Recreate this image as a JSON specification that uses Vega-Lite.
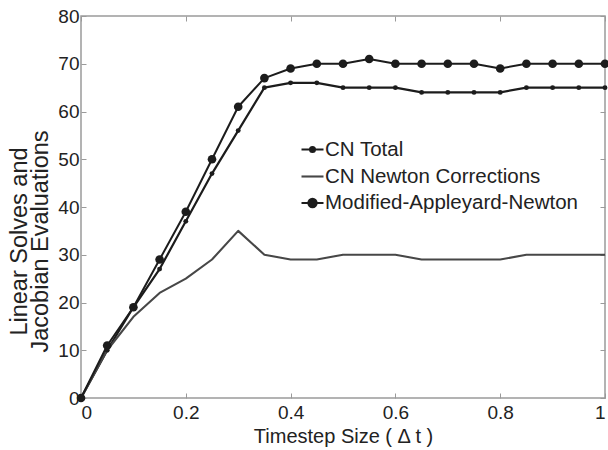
{
  "$schema": "https://vega.github.io/schema/vega-lite/v6.json",
  "width": 524,
  "height": 382,
  "autosize": {"type": "none"},
  "padding": {"left": 81, "top": 16, "right": 3, "bottom": 52},
  "background": "white",
  "config": {
    "view": {"stroke": "#9a9a9a", "strokeWidth": 1.5},
    "font": "Liberation Sans",
    "axis": {
      "domain": false,
      "grid": false,
      "tickSize": -5,
      "tickColor": "#9a9a9a",
      "tickWidth": 1,
      "labelFont": "Liberation Sans",
      "labelFontSize": 19,
      "labelColor": "#222222",
      "titleFont": "Liberation Sans",
      "titleFontSize": 20,
      "titleFontWeight": "normal",
      "titleColor": "#222222"
    }
  },
  "data": {
    "values": [
      {"x": 0.0, "series": "CN Total", "v": 0},
      {"x": 0.05, "series": "CN Total", "v": 10},
      {"x": 0.1, "series": "CN Total", "v": 19},
      {"x": 0.15, "series": "CN Total", "v": 27},
      {"x": 0.2, "series": "CN Total", "v": 37},
      {"x": 0.25, "series": "CN Total", "v": 47},
      {"x": 0.3, "series": "CN Total", "v": 56},
      {"x": 0.35, "series": "CN Total", "v": 65},
      {"x": 0.4, "series": "CN Total", "v": 66},
      {"x": 0.45, "series": "CN Total", "v": 66},
      {"x": 0.5, "series": "CN Total", "v": 65},
      {"x": 0.55, "series": "CN Total", "v": 65},
      {"x": 0.6, "series": "CN Total", "v": 65},
      {"x": 0.65, "series": "CN Total", "v": 64},
      {"x": 0.7, "series": "CN Total", "v": 64},
      {"x": 0.75, "series": "CN Total", "v": 64},
      {"x": 0.8, "series": "CN Total", "v": 64},
      {"x": 0.85, "series": "CN Total", "v": 65},
      {"x": 0.9, "series": "CN Total", "v": 65},
      {"x": 0.95, "series": "CN Total", "v": 65},
      {"x": 1.0, "series": "CN Total", "v": 65},
      {"x": 0.0, "series": "CN Newton Corrections", "v": 0},
      {"x": 0.05, "series": "CN Newton Corrections", "v": 10},
      {"x": 0.1, "series": "CN Newton Corrections", "v": 17},
      {"x": 0.15, "series": "CN Newton Corrections", "v": 22},
      {"x": 0.2, "series": "CN Newton Corrections", "v": 25},
      {"x": 0.25, "series": "CN Newton Corrections", "v": 29},
      {"x": 0.3, "series": "CN Newton Corrections", "v": 35},
      {"x": 0.35, "series": "CN Newton Corrections", "v": 30},
      {"x": 0.4, "series": "CN Newton Corrections", "v": 29},
      {"x": 0.45, "series": "CN Newton Corrections", "v": 29},
      {"x": 0.5, "series": "CN Newton Corrections", "v": 30},
      {"x": 0.55, "series": "CN Newton Corrections", "v": 30},
      {"x": 0.6, "series": "CN Newton Corrections", "v": 30},
      {"x": 0.65, "series": "CN Newton Corrections", "v": 29},
      {"x": 0.7, "series": "CN Newton Corrections", "v": 29},
      {"x": 0.75, "series": "CN Newton Corrections", "v": 29},
      {"x": 0.8, "series": "CN Newton Corrections", "v": 29},
      {"x": 0.85, "series": "CN Newton Corrections", "v": 30},
      {"x": 0.9, "series": "CN Newton Corrections", "v": 30},
      {"x": 0.95, "series": "CN Newton Corrections", "v": 30},
      {"x": 1.0, "series": "CN Newton Corrections", "v": 30},
      {"x": 0.0, "series": "Modified-Appleyard-Newton", "v": 0},
      {"x": 0.05, "series": "Modified-Appleyard-Newton", "v": 11},
      {"x": 0.1, "series": "Modified-Appleyard-Newton", "v": 19},
      {"x": 0.15, "series": "Modified-Appleyard-Newton", "v": 29},
      {"x": 0.2, "series": "Modified-Appleyard-Newton", "v": 39},
      {"x": 0.25, "series": "Modified-Appleyard-Newton", "v": 50},
      {"x": 0.3, "series": "Modified-Appleyard-Newton", "v": 61},
      {"x": 0.35, "series": "Modified-Appleyard-Newton", "v": 67},
      {"x": 0.4, "series": "Modified-Appleyard-Newton", "v": 69},
      {"x": 0.45, "series": "Modified-Appleyard-Newton", "v": 70},
      {"x": 0.5, "series": "Modified-Appleyard-Newton", "v": 70},
      {"x": 0.55, "series": "Modified-Appleyard-Newton", "v": 71},
      {"x": 0.6, "series": "Modified-Appleyard-Newton", "v": 70},
      {"x": 0.65, "series": "Modified-Appleyard-Newton", "v": 70},
      {"x": 0.7, "series": "Modified-Appleyard-Newton", "v": 70},
      {"x": 0.75, "series": "Modified-Appleyard-Newton", "v": 70},
      {"x": 0.8, "series": "Modified-Appleyard-Newton", "v": 69},
      {"x": 0.85, "series": "Modified-Appleyard-Newton", "v": 70},
      {"x": 0.9, "series": "Modified-Appleyard-Newton", "v": 70},
      {"x": 0.95, "series": "Modified-Appleyard-Newton", "v": 70},
      {"x": 1.0, "series": "Modified-Appleyard-Newton", "v": 70}
    ]
  },
  "layer": [
    {
      "mark": {"type": "line", "strokeJoin": "round"},
      "encoding": {
        "x": {
          "field": "x", "type": "quantitative",
          "scale": {"domain": [0, 1], "nice": false, "zero": false},
          "axis": {"orient": "bottom", "values": [0, 0.2, 0.4, 0.6, 0.8, 1], "format": "~g", "labelPadding": 10, "title": "Timestep Size ( Δ t )", "titlePadding": 4}
        },
        "y": {
          "field": "v", "type": "quantitative",
          "scale": {"domain": [0, 80], "nice": false},
          "axis": {"orient": "left", "values": [0, 10, 20, 30, 40, 50, 60, 70, 80], "labelPadding": 7, "title": ["Linear Solves and", "Jacobian Evaluations"], "titleFontSize": 23.5, "titleLineHeight": 21, "titlePadding": 5, "titleY": 225}
        },
        "color": {
          "field": "series", "type": "nominal",
          "scale": {"domain": ["CN Total", "CN Newton Corrections", "Modified-Appleyard-Newton"], "range": ["#1c1c1c", "#474747", "#1c1c1c"]},
          "legend": {
            "title": null,
            "orient": "none",
            "legendX": 219,
            "legendY": 121,
            "padding": 0,
            "labelFont": "Liberation Sans",
            "labelFontSize": 20.5,
            "labelColor": "#222222",
            "labelOffset": 0,
            "labelLimit": 0,
            "rowPadding": 4,
            "symbolSize": 484,
            "symbolType": "M-1,0L1,0",
            "symbolStrokeWidth": 2,
            "encode": {
              "symbols": {
                "update": {
                  "shape": {"signal": "datum.value === 'CN Total' ? 'M-1,0L1,0M-0.22,0A0.22,0.22,0,1,1,0.22,0A0.22,0.22,0,1,1,-0.22,0Z' : (datum.value === 'CN Newton Corrections' ? 'M-1,0L1,0' : 'M-1,0L1,0M-0.38,0A0.38,0.38,0,1,1,0.38,0A0.38,0.38,0,1,1,-0.38,0Z')"},
                  "strokeWidth": {"signal": "datum.value === 'Modified-Appleyard-Newton' ? 4 : 2"},
                  "fill": {"signal": "datum.value === 'CN Newton Corrections' ? 'transparent' : '#1c1c1c'"},
                  "size": {"value": 484}
                }
              }
            }
          }
        },
        "strokeWidth": {
          "field": "series", "type": "ordinal",
          "scale": {"domain": ["CN Total", "CN Newton Corrections", "Modified-Appleyard-Newton"], "range": [2.2, 2, 4]},
          "legend": null
        }
      }
    },
    {
      "transform": [{"filter": "datum.series !== 'CN Newton Corrections'"}],
      "mark": {"type": "point", "filled": true, "opacity": 1, "color": "#1c1c1c"},
      "encoding": {
        "x": {"field": "x", "type": "quantitative", "axis": null},
        "y": {"field": "v", "type": "quantitative", "axis": null},
        "size": {
          "field": "series", "type": "ordinal",
          "scale": {"domain": ["CN Total", "Modified-Appleyard-Newton"], "range": [24, 75]},
          "legend": null
        }
      }
    },
    {
      "mark": {"type": "point", "opacity": 0},
      "encoding": {
        "x": {"field": "x", "type": "quantitative", "axis": {"orient": "top", "values": [0, 0.2, 0.4, 0.6, 0.8, 1], "labels": false, "title": null}},
        "y": {"field": "v", "type": "quantitative", "axis": {"orient": "right", "values": [0, 10, 20, 30, 40, 50, 60, 70, 80], "labels": false, "title": null}}
      }
    }
  ],
  "resolve": {"axis": {"x": "independent", "y": "independent"}}
}
